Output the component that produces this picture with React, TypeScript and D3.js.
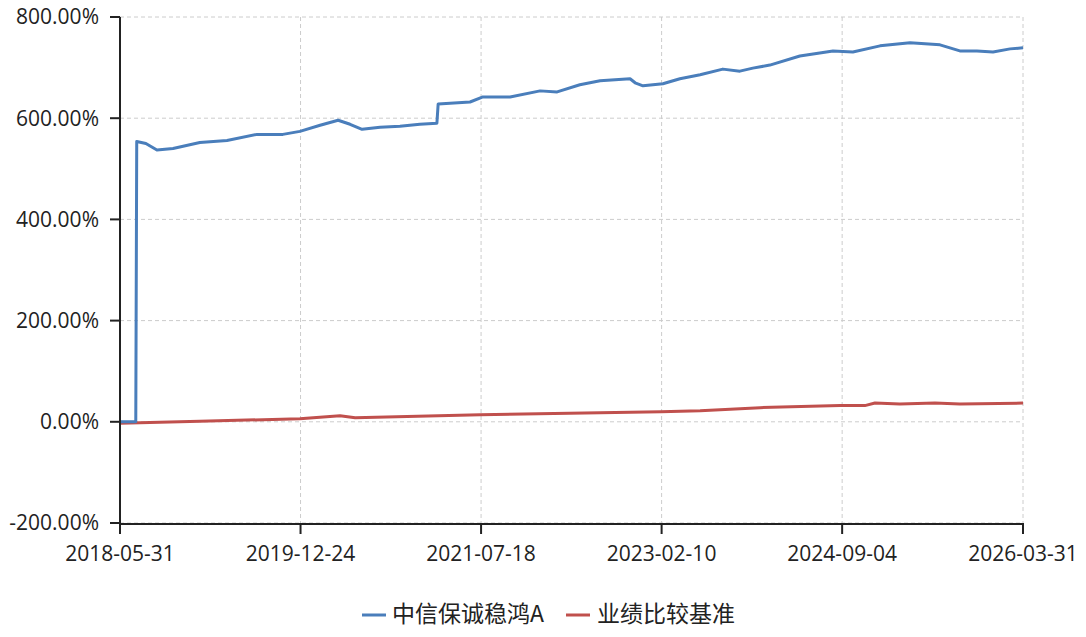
import React from 'react';
import {scaleTime, scaleLinear, line, timeParse} from 'd3';

const parse = timeParse('%Y-%m-%d');

// 中信保诚稳鸿A cumulative return (%)
const fundDates = [
  '2018-05-31', '2018-07-20', '2018-07-23', '2018-08-21', '2018-09-25', '2018-11-15',
  '2019-02-08', '2019-05-05', '2019-08-08', '2019-10-29', '2019-12-22', '2020-02-24',
  '2020-04-21', '2020-05-29', '2020-07-06', '2020-09-01', '2020-11-03', '2021-01-05',
  '2021-02-28', '2021-03-04', '2021-06-13', '2021-07-24', '2021-10-18', '2022-01-21',
  '2022-03-16', '2022-05-27', '2022-07-30', '2022-11-02', '2022-11-18', '2022-12-13',
  '2023-02-14', '2023-04-09', '2023-06-12', '2023-08-23', '2023-10-16', '2023-11-26',
  '2024-01-19', '2024-04-23', '2024-08-06', '2024-10-08', '2025-01-02', '2025-04-07',
  '2025-07-11', '2025-09-12', '2025-11-05', '2025-12-26', '2026-02-18', '2026-03-31'
];
const fundValues = [
  0, 0, 554, 550, 537, 540,
  552, 556, 568, 568, 574, 586,
  596, 588, 578, 582, 584, 588,
  590, 628, 632, 642, 642, 654,
  652, 666, 674, 678, 670, 664,
  668, 678, 686, 697, 693, 699,
  705, 723, 733, 731, 743, 749,
  745, 733, 733, 731, 737, 739
];

// 业绩比较基准 (%)
const benchDates = [
  '2018-05-31', '2019-02-08', '2019-12-22', '2020-04-27', '2020-06-14', '2021-07-15',
  '2022-07-30', '2023-02-08', '2023-06-12', '2023-12-19', '2024-08-29', '2024-11-15',
  '2024-12-17', '2025-03-06', '2025-06-25', '2025-09-12', '2026-03-31'
];
const benchValues = [
  -3, 1, 6, 12, 8, 14,
  18, 20, 22, 28, 32, 32,
  37, 35, 37, 35, 37
];

const xTicks = ['2018-05-31', '2019-12-24', '2021-07-18', '2023-02-10', '2024-09-04', '2026-03-31'];
const yTicks = [-200, 0, 200, 400, 600, 800];

const seriesNames = ['中信保诚稳鸿A', '业绩比较基准'];
const seriesColors = ['#4a7ebb', '#c0504d'];

const W = 1086;
const H = 637;
const left = 120, right = 1023, top = 17, bottom = 523;
const font = '"Open Sans", "Noto Sans CJK SC", sans-serif';

const App = () => {
  const x = scaleTime()
    .domain([parse('2018-05-31')!, parse('2026-03-31')!])
    .range([left, right]);
  const y = scaleLinear().domain([-200, 800]).range([bottom, top]);

  const mk = line<[Date, number]>()
    .x(d => x(d[0]))
    .y(d => y(d[1]));

  const fund = fundDates.map((d, i) => [parse(d)!, fundValues[i]] as [Date, number]);
  const bench = benchDates.map((d, i) => [parse(d)!, benchValues[i]] as [Date, number]);

  return (
    <svg width={W} height={H} style={{position: 'absolute', left: 0, top: 0, background: '#fff'}}>
      <g className='grid' stroke='#cccccc' strokeDasharray='4,3' strokeWidth={1}>
        {yTicks.map(t => (
          <line key={'gy' + t} x1={left} x2={right} y1={y(t)} y2={y(t)}/>
        ))}
        {xTicks.map(t => (
          <line key={'gx' + t} x1={x(parse(t)!)} x2={x(parse(t)!)} y1={top} y2={bottom}/>
        ))}
      </g>

      <path d={mk(bench) || ''} fill='none' stroke={seriesColors[1]} strokeWidth={3} strokeLinejoin='round'/>
      <path d={mk(fund) || ''} fill='none' stroke={seriesColors[0]} strokeWidth={3} strokeLinejoin='round'/>

      <g className='y-axis' fontFamily={font} fontSize={21} fill='#222'>
        <line x1={left} x2={left} y1={top} y2={bottom + 1} stroke='#222' strokeWidth={2}/>
        {yTicks.map(t => (
          <g key={'yt' + t}>
            <line x1={left - 10} x2={left} y1={y(t)} y2={y(t)} stroke='#222' strokeWidth={2}/>
            <text x={99} y={y(t)} dy='0.35em' textAnchor='end'>{t.toFixed(2) + '%'}</text>
          </g>
        ))}
      </g>

      <g className='x-axis' fontFamily={font} fontSize={21} fill='#222'>
        <line x1={left - 1} x2={right + 1} y1={bottom + 1} y2={bottom + 1} stroke='#222' strokeWidth={2}/>
        {xTicks.map(t => (
          <g key={'xt' + t}>
            <line x1={x(parse(t)!)} x2={x(parse(t)!)} y1={bottom} y2={bottom + 11} stroke='#222' strokeWidth={2}/>
            <text x={x(parse(t)!)} y={561} textAnchor='middle'>{t}</text>
          </g>
        ))}
      </g>

      <g className='legend' fontFamily='"Noto Sans CJK SC", sans-serif' fontSize={23} fill='#222'>
        <line x1={362} x2={386} y1={615} y2={615} stroke={seriesColors[0]} strokeWidth={3}/>
        <text x={392} y={614} dy='0.35em'>{seriesNames[0]}</text>
        <line x1={566} x2={590} y1={615} y2={615} stroke={seriesColors[1]} strokeWidth={3}/>
        <text x={597} y={614} dy='0.35em'>{seriesNames[1]}</text>
      </g>
    </svg>
  );
};

export default App;
